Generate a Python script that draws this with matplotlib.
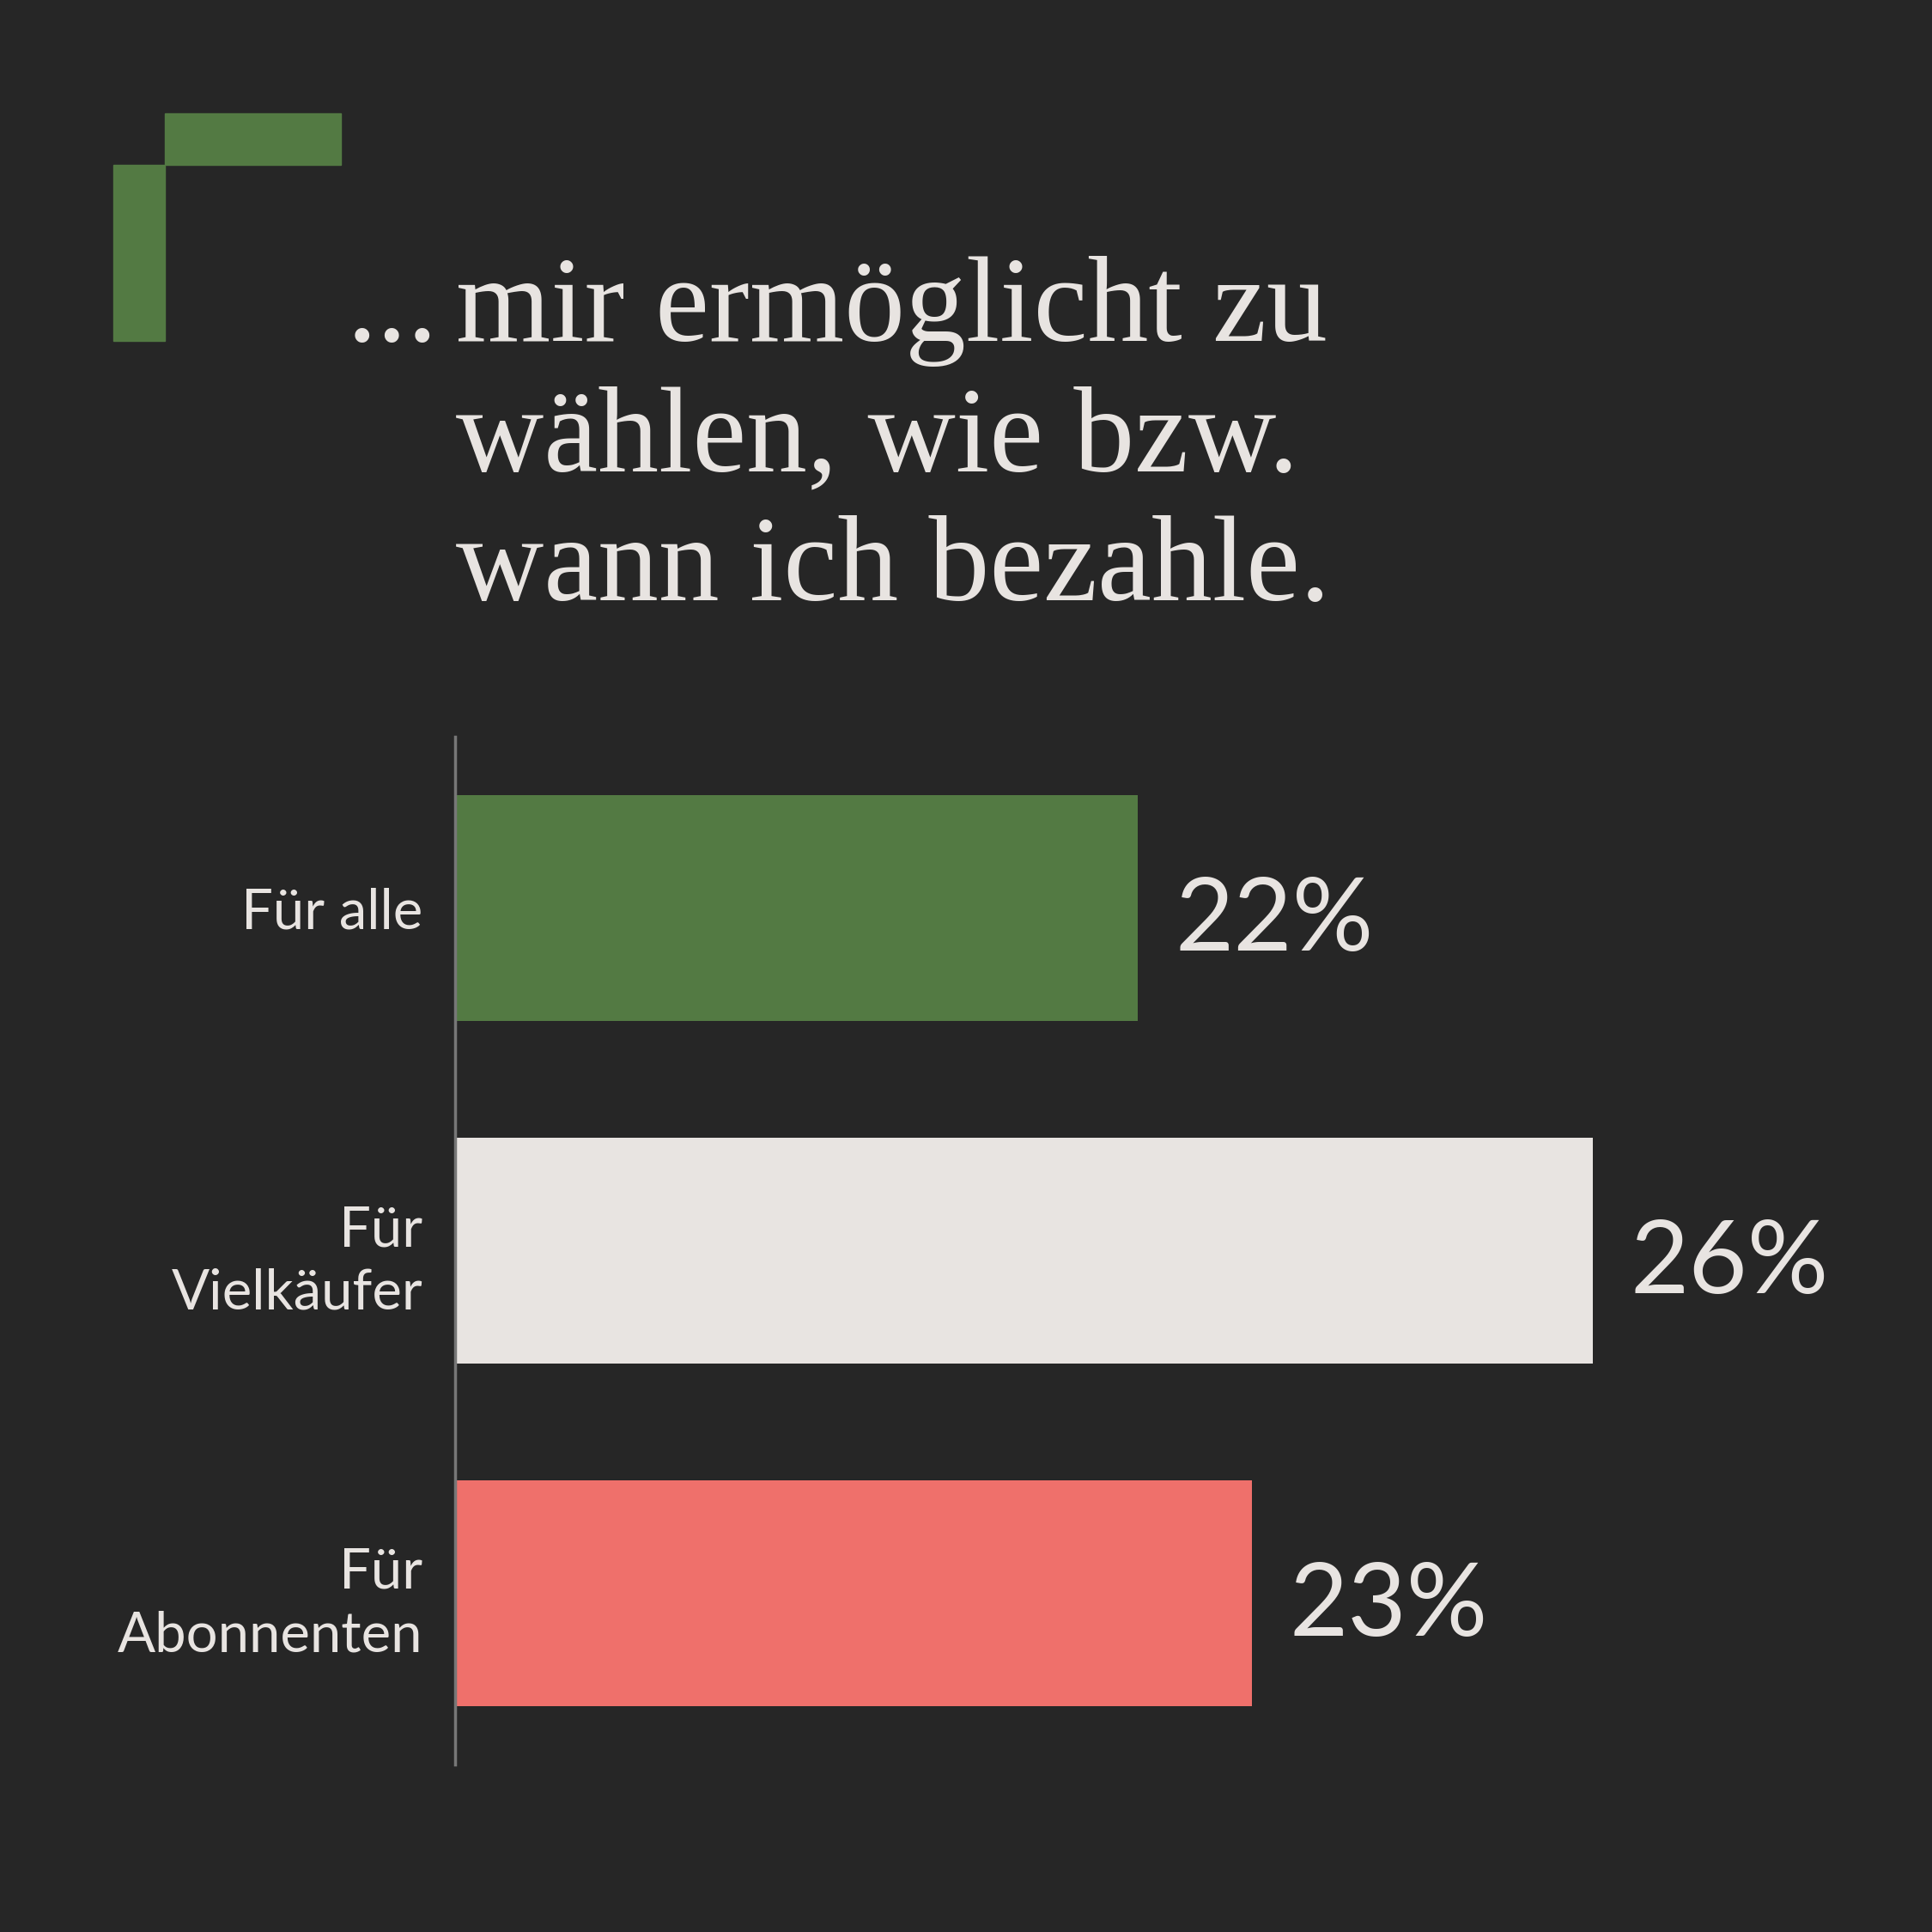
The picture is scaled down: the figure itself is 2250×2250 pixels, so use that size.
import matplotlib
matplotlib.use("Agg")
import matplotlib.pyplot as plt
from matplotlib.patches import Rectangle

# data
categories = ["Für alle", "Für\nVielkäufer", "Für\nAbonnenten"]
values = [22, 26, 23]
value_labels = ["22%", "26%", "23%"]
bar_colors = ["#537a43", "#e8e4e1", "#ef706b"]
title_lines = ["mir ermöglicht zu", "wählen, wie bzw.", "wann ich bezahle."]

BG = "#262626"
TXT = "#e8e4e1"
W = H = 2250


def fx(px):
    return px / W


def fy(px):
    return 1 - px / H


fig = plt.figure(figsize=(22.5, 22.5), dpi=100, facecolor=BG)

# corner decoration
fig.patches.append(Rectangle((fx(192), fy(192)), fx(397) - fx(192), fy(132) - fy(192),
                             transform=fig.transFigure, color="#537a43", zorder=0))
fig.patches.append(Rectangle((fx(132), fy(397)), fx(192) - fx(132), fy(192) - fy(397),
                             transform=fig.transFigure, color="#537a43", zorder=0))

# title
serif = "Liberation Serif"
fig.text(fx(510), fy(397), "...", family=serif, fontsize=102, color=TXT,
         va="baseline", ha="right")
for i, line in enumerate(title_lines):
    fig.text(fx(531), fy(397 + i * 151), line, family=serif, fontsize=102,
             color=TXT, va="baseline", ha="left")

# bars
ax = fig.add_axes([fx(530), fy(2055), fx(2120) - fx(530), fy(858) - fy(2055)])
ax.set_facecolor(BG)
y = list(range(len(categories)))
ax.barh(y, [v - 16 for v in values], left=16, height=0.66, color=bar_colors)
ax.set_xlim(16, 28)
ax.set_ylim(2.5, -0.5)

for yi, v, lab in zip(y, values, value_labels):
    ax.text(v + 0.33, yi + 0.04, lab, family="Lato", fontsize=85, color=TXT,
            va="center", ha="left")

ax.set_yticks(y)
ax.set_yticklabels(categories, family="Lato", fontsize=47, color=TXT, linespacing=1.3)
ax.tick_params(axis="y", length=0, pad=27)
ax.set_xticks([])
for s in ["top", "right", "bottom"]:
    ax.spines[s].set_visible(False)
ax.spines["left"].set_color("#777777")
ax.spines["left"].set_linewidth(2.5)

fig.savefig("out.png", facecolor=BG)
